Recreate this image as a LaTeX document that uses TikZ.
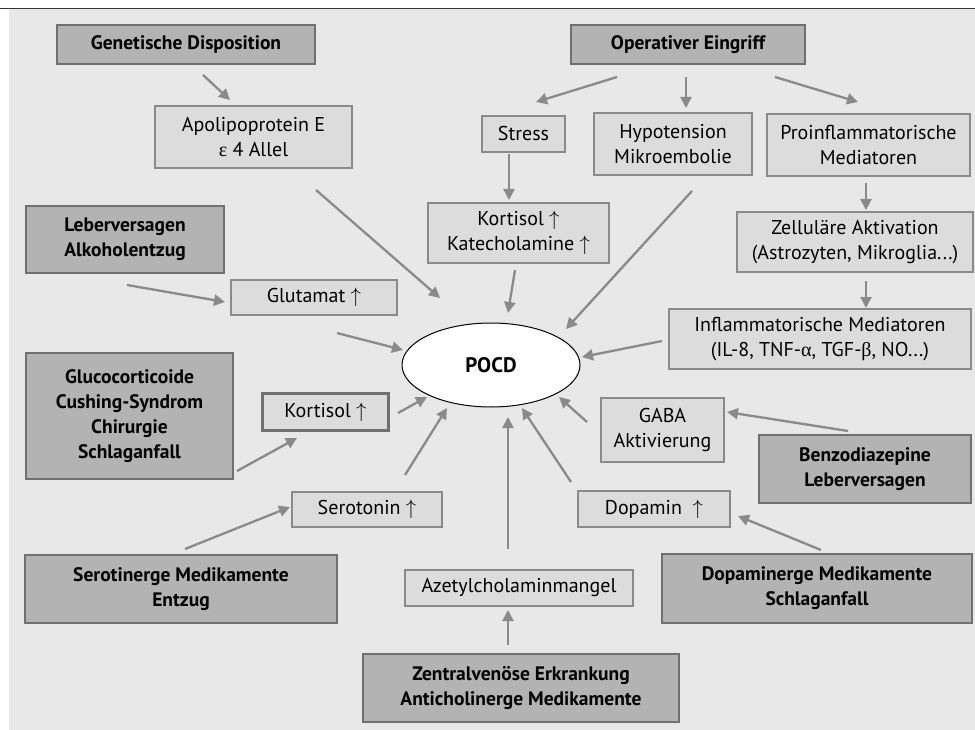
\documentclass[tikz,border=0pt]{standalone}
\usepackage{fontspec}
\setmainfont{PT Sans}
\newfontfamily\grk{Liberation Serif}
\usetikzlibrary{shapes.geometric,arrows.meta,calc}
\definecolor{bgc}{HTML}{E8E8E8}
\definecolor{dkfill}{HTML}{B3B3B3}
\definecolor{ltfill}{HTML}{DCDCDC}
\definecolor{bdr}{HTML}{707070}
\definecolor{arrc}{HTML}{8A8A8A}
\tikzset{
  base/.style={draw=bdr,line width=1.2pt,align=center,inner sep=2pt,
    font=\fontsize{20}{25}\selectfont,text=black},
  dk/.style={base,fill=dkfill,font=\fontsize{19.5}{25}\selectfont\bfseries},
  lt/.style={base,fill=ltfill,draw=arrc},
  arr/.style={draw=arrc,line width=2.3pt,-{Triangle[length=11pt,width=11pt]}},
}
\begin{document}
\begin{tikzpicture}[x=1pt,y=-1pt]
\useasboundingbox (0,0) rectangle (975,730);
\fill[white] (0,0) rectangle (975,730);
\fill[bgc] (9,9) rectangle (975,730);
\draw[line width=1.5pt,black!80] (0,8.5) -- (975,8.5);

\node[dk,minimum width=258pt,minimum height=39pt] (gen) at (186,44.5) {Genetische Disposition};
\node[dk,minimum width=234pt,minimum height=39pt] (op) at (688,44.5) {Operativer Eingriff};
\node[lt,minimum width=197pt,minimum height=62pt] (apo) at (253.5,137) {Apolipoprotein E\\{\grk ε} 4 Allel};
\node[lt,minimum width=83pt,minimum height=36pt] (stress) at (523.5,134) {Stress};
\node[lt,minimum width=158pt,minimum height=62pt] (hypo) at (673,144) {Hypotension\\Mikroembolie};
\node[lt,minimum width=203pt,minimum height=62pt] (proi) at (868.5,145) {Proinflammatorische\\Mediatoren};
\node[lt,minimum width=181pt,minimum height=60pt] (kk) at (518.5,233) {Kortisol $\uparrow$\\Katecholamine $\uparrow$};
\node[lt,minimum width=236pt,minimum height=60pt] (zell) at (855,242) {Zelluläre Aktivation\\(Astrozyten, Mikroglia...)};
\node[dk,minimum width=198pt,minimum height=67pt] (leb) at (125,239.5) {Leberversagen\\Alkoholentzug};
\node[lt,minimum width=166pt,minimum height=35pt] (glu) at (314,297.5) {Glutamat $\uparrow$};
\node[lt,minimum width=302pt,minimum height=60pt] (infl) at (820,339) {Inflammatorische Mediatoren\\(IL-8, TNF-{\grk α}, TGF-{\grk β}, NO...)};
\node[ellipse,draw=black,line width=1pt,fill=white,minimum width=178pt,minimum height=84pt,
  font=\fontsize{21}{25}\selectfont\bfseries] (pocd) at (491,365) {POCD};
\node[lt,draw=bdr,line width=2.2pt,minimum width=126pt,minimum height=37pt] (kort) at (325.5,412) {Kortisol $\uparrow$};
\node[dk,minimum width=207pt,minimum height=126pt] (gluco) at (129.5,416) {Glucocorticoide\\Cushing-Syndrom\\Chirurgie\\Schlaganfall};
\node[lt,minimum width=123pt,minimum height=64pt] (gaba) at (662.5,430) {GABA\\Aktivierung};
\node[dk,minimum width=212pt,minimum height=68pt] (benzo) at (865,469) {Benzodiazepine\\Leberversagen};
\node[lt,minimum width=150pt,minimum height=35pt] (sero) at (367,509.5) {Serotonin $\uparrow$};
\node[dk,minimum width=312pt,minimum height=68pt] (serm) at (181,589) {Serotinerge Medikamente\\Entzug};
\node[lt,minimum width=228pt,minimum height=36pt] (azet) at (519,588) {Azetylcholaminmangel};
\node[dk,minimum width=316pt,minimum height=68pt] (zent) at (521,688) {Zentralvenöse Erkrankung\\Anticholinerge Medikamente};
\node[lt,minimum width=152pt,minimum height=36pt] (dopa) at (654,509) {Dopamin\ \ $\uparrow$};
\node[dk,minimum width=310pt,minimum height=69pt] (dopm) at (817,588.5) {Dopaminerge Medikamente\\Schlaganfall};

\draw[arr] ($(gen)+(17,30.5)$) -- ($(apo)+(-23.5,-37)$);
\draw[arr] ($(apo)+(62.5,53)$) -- ($(pocd)+(-51,-67)$);
\draw[arr] ($(op)+(-71,32.5)$) -- ($(stress)+(12.5,-32)$);
\draw[arr] ($(op)+(-2,32.5)$) -- ($(hypo)+(13,-36)$);
\draw[arr] ($(op)+(87,32.5)$) -- ($(proi)+(-10.5,-43)$);
\draw[arr] ($(stress)+(-14.5,20)$) -- ($(kk)+(-9.5,-33)$);
\draw[arr] ($(hypo)+(19,47)$) -- ($(pocd)+(75,-36)$);
\draw[arr] ($(kk)+(-3.5,37)$) -- ($(pocd)+(17,-52)$);
\draw[arr] ($(proi)+(-2.5,38)$) -- ($(zell)+(11,-32)$);
\draw[arr] ($(zell)+(11,39)$) -- ($(infl)+(46,-31)$);
\draw[arr] ($(infl)+(-158,2)$) -- ($(pocd)+(91,-8)$);
\draw[arr] ($(leb)+(2,45.5)$) -- ($(glu)+(-89,4.5)$);
\draw[arr] ($(glu)+(23,35.5)$) -- ($(pocd)+(-88,-15)$);
\draw[arr] ($(kort)+(72.5,1)$) -- ($(pocd)+(-64,32)$);
\draw[arr] ($(gluco)+(107.5,55)$) -- ($(kort)+(-28.5,26)$);
\draw[arr] ($(sero)+(38,-34.5)$) -- ($(pocd)+(-44,43)$);
\draw[arr] ($(serm)+(4,-40)$) -- ($(sero)+(-77,-2.5)$);
\draw[arr] ($(azet)+(-11,-39)$) -- ($(pocd)+(17,52)$);
\draw[arr] ($(zent)+(-13,-43)$) -- ($(azet)+(-11,22)$);
\draw[arr] ($(dopa)+(-83,-27)$) -- ($(pocd)+(31,43)$);
\draw[arr] ($(gaba)+(-75.5,-8)$) -- ($(pocd)+(68,32)$);
\draw[arr] ($(benzo)+(-17,-38)$) -- ($(gaba)+(64.5,-18)$);
\draw[arr] ($(dopm)+(4,-38.5)$) -- ($(dopa)+(84,7)$);
\end{tikzpicture}
\end{document}
